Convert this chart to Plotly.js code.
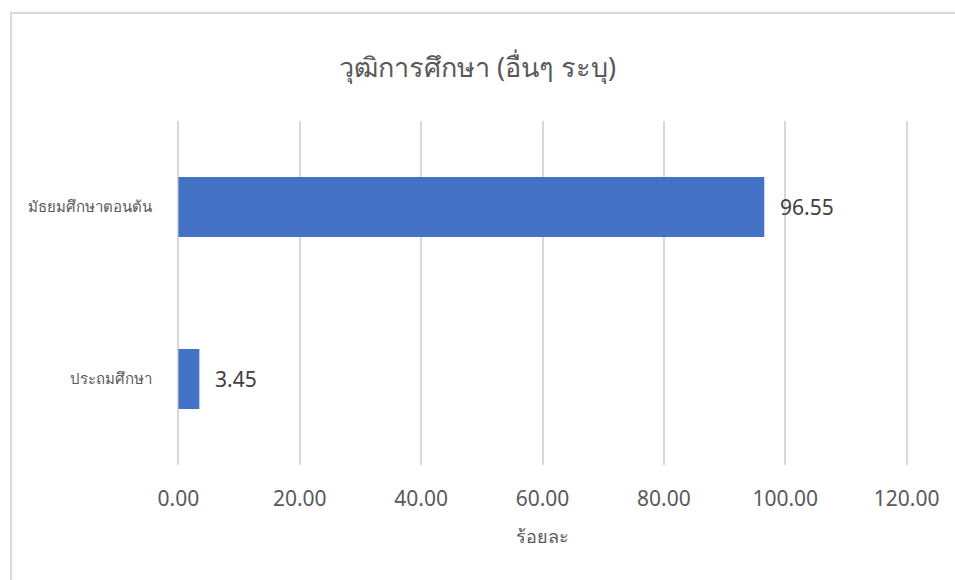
<!DOCTYPE html>
<html>
<head>
<meta charset="utf-8">
<script src="https://cdn.plot.ly/plotly-3.0.1.min.js"></script>
<style>html,body{margin:0;padding:0;background:#fff;}#chart{width:955px;height:580px;}</style>
</head>
<body>
<div id="chart"></div>
<script>
const categories = ["ประถมศึกษา", "มัธยมศึกษาตอนต้น"];
const values = [3.45, 96.55];
const tickValues = [0, 20, 40, 60, 80, 100, 120];
const tickLabels = ["0.00", "20.00", "40.00", "60.00", "80.00", "100.00", "120.00"];
const chartTitle = "วุฒิการศึกษา (อื่นๆ ระบุ)";
const xTitle = "ร้อยละ";

const fontFam = "'Noto Sans', 'DejaVu Sans', sans-serif";

const trace = {
  type: "bar",
  orientation: "h",
  x: values,
  y: categories,
  width: 0.35,
  marker: {color: "#4472C4"},
  hoverinfo: "x+y"
};

const annotations = values.map((v, i) => ({
  x: v, y: categories[i], xref: "x", yref: "y",
  text: v.toFixed(2), showarrow: false,
  xanchor: "left", xshift: 14,
  font: {family: fontFam, size: 21, color: "#404040"}
}));

const layout = {
  width: 955, height: 580,
  margin: {l: 175.6, r: 45.6, t: 121, b: 115},
  paper_bgcolor: "#ffffff",
  plot_bgcolor: "#ffffff",
  title: {text: chartTitle, x: 0.5, xref: "container", xanchor: "center",
          y: 1 - 68 / 580, yref: "container", yanchor: "middle",
          font: {family: fontFam, size: 27, color: "#595959"}},
  xaxis: {
    range: [-0.4, 120.4], tickvals: tickValues, ticktext: tickLabels,
    showgrid: true, gridcolor: "#d9d9d9", gridwidth: 2,
    zeroline: false, showline: false, ticks: "",
    ticklabelstandoff: 19,
    tickfont: {family: fontFam, size: 21, color: "#595959"},
    title: {text: xTitle, font: {family: fontFam, size: 18, color: "#595959"}, standoff: 19},
    fixedrange: true
  },
  yaxis: {
    categoryorder: "array", categoryarray: categories,
    range: [-0.5, 1.5],
    showgrid: false, zeroline: false, showline: false, ticks: "",
    ticklabelstandoff: 23,
    tickfont: {family: fontFam, size: 15, color: "#595959"},
    fixedrange: true
  },
  annotations: annotations,
  shapes: [{
    type: "rect", xref: "paper", yref: "paper",
    x0: -0.225, x1: 1.1,
    y0: -0.4, y1: (465 - 13) / 344,
    line: {color: "#d9d9d9", width: 2}, fillcolor: "rgba(0,0,0,0)", layer: "below"
  }],
  showlegend: false
};

Plotly.newPlot("chart", [trace], layout, {displayModeBar: false, staticPlot: true});
</script>
</body>
</html>
